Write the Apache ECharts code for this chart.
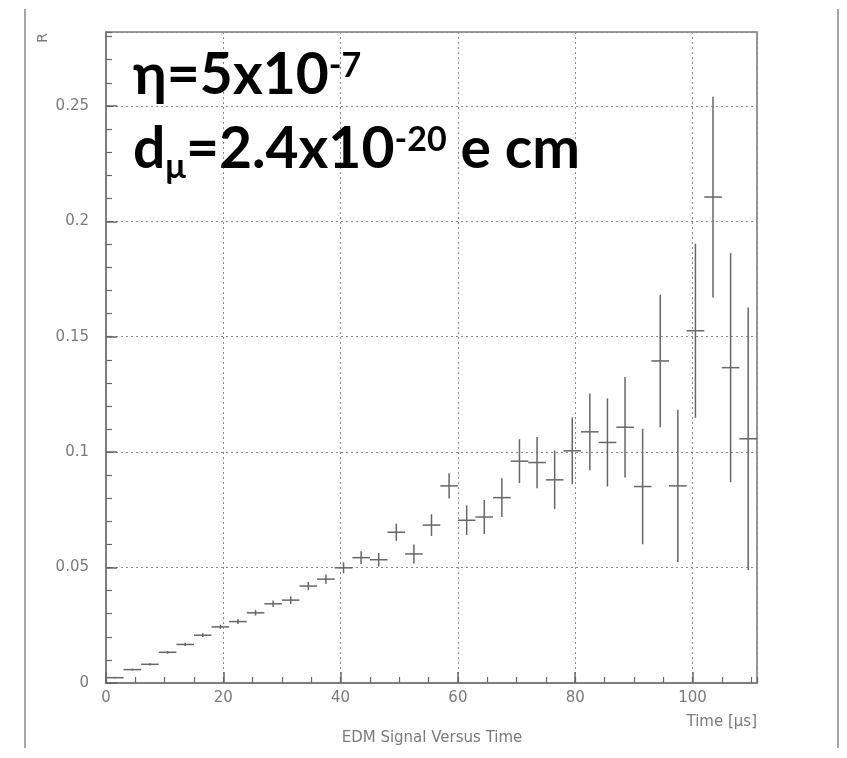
<!DOCTYPE html>
<html>
<head>
<meta charset="utf-8">
<script src="https://cdn.jsdelivr.net/npm/echarts@6/dist/echarts.min.js"></script>
<style>
  html, body { margin: 0; padding: 0; background: #fff; }
  #chart { width: 847px; height: 758px; }
</style>
</head>
<body>
<div id="chart"></div>
<script>
// Bin centres (µs), measured asymmetry R and its statistical error per bin
const times = [1.5, 4.5, 7.5, 10.5, 13.5, 16.5, 19.5, 22.5, 25.5, 28.5,
  31.5, 34.5, 37.5, 40.5, 43.5, 46.5, 49.5, 52.5, 55.5, 58.5,
  61.5, 64.5, 67.5, 70.5, 73.5, 76.5, 79.5, 82.5, 85.5, 88.5,
  91.5, 94.5, 97.5, 100.5, 103.5, 106.5, 109.5];
const rValues = [0.0023, 0.0058, 0.0081, 0.0133, 0.0167, 0.0207, 0.0243, 0.0266, 0.0304, 0.0343,
  0.0359, 0.0420, 0.0450, 0.0499, 0.0543, 0.0534, 0.0653, 0.0559, 0.0684, 0.0854,
  0.0705, 0.0719, 0.0803, 0.0961, 0.0955, 0.0880, 0.1006, 0.1088, 0.1042, 0.1108,
  0.0851, 0.1395, 0.0854, 0.1526, 0.2105, 0.1366, 0.1058];
const rErrors = [0.0002, 0.0004, 0.0005, 0.0006, 0.0007, 0.0008, 0.0009, 0.0010, 0.0012, 0.0014,
  0.0016, 0.0018, 0.0020, 0.0024, 0.0028, 0.0029, 0.0037, 0.0041, 0.0047, 0.0055,
  0.0064, 0.0074, 0.0084, 0.0095, 0.0111, 0.0127, 0.0145, 0.0166, 0.0191, 0.0218,
  0.0250, 0.0287, 0.0330, 0.0377, 0.0435, 0.0496, 0.0569];
const binHalfWidth = 1.5;

const xMin = 0, xMax = 111, xMajor = 20, xMinor = 5;
const yMin = 0, yMax = 0.282, yMajor = 0.05, yMinor = 0.01;

const points = times.map((t, i) => [t, rValues[i], rErrors[i]]);

const inkColor = '#666';
const labelColor = '#7a7a7a';

function renderErrorCross(params, api) {
  const t = api.value(0), r = api.value(1), e = api.value(2);
  const left = api.coord([t - binHalfWidth, r]);
  const right = api.coord([t + binHalfWidth, r]);
  const top = api.coord([t, r + e]);
  const bottom = api.coord([t, r - e]);
  const style = { stroke: inkColor, lineWidth: 1.5 };
  return {
    type: 'group',
    children: [
      { type: 'line', shape: { x1: left[0], y1: left[1], x2: right[0], y2: right[1] }, style: style },
      { type: 'line', shape: { x1: top[0], y1: top[1], x2: bottom[0], y2: bottom[1] }, style: style }
    ]
  };
}

const gridBox = { left: 106, top: 32, right: 90, bottom: 75 };
const titleFont = 'Lato, "Open Sans", sans-serif';
// rich-text styles for the annotation lines: main text, superscript, subscript
const bigText = { fontFamily: titleFont, fontWeight: 'bold', fontSize: 57, fill: '#000', lineHeight: 64, verticalAlign: 'bottom' };
const supText = { fontFamily: titleFont, fontWeight: 'bold', fontSize: 34, fill: '#000', lineHeight: 34, verticalAlign: 'top', padding: [9, 0, 0, 0] };
const subText = { fontFamily: titleFont, fontWeight: 'bold', fontSize: 34, fill: '#000', lineHeight: 34, verticalAlign: 'top', padding: [36, 0, 0, 0] };

const chart = echarts.init(document.getElementById('chart'), null, { renderer: 'canvas' });
chart.setOption({
  animation: false,
  backgroundColor: '#fff',
  grid: Object.assign({ show: true, borderColor: '#777', borderWidth: 1.5, containLabel: false }, gridBox),
  xAxis: [
    {
      type: 'value', min: xMin, max: xMax, interval: xMajor, position: 'bottom',
      axisLine: { show: true, onZero: false, lineStyle: { color: '#777', width: 1.5 } },
      axisTick: { show: true, inside: true, length: 11, lineStyle: { color: inkColor, width: 1.5 } },
      axisLabel: { color: labelColor, fontSize: 15, fontFamily: '"DejaVu Sans", sans-serif', margin: 8, showMaxLabel: false },
      splitLine: { show: true, lineStyle: { color: '#8a8a8a', type: [2, 3], width: 1 } }
    },
    {
      type: 'value', min: xMin, max: xMax, interval: xMinor, position: 'bottom',
      axisLine: { show: false },
      axisTick: { show: true, inside: true, length: 6, lineStyle: { color: inkColor, width: 1.2 } },
      axisLabel: { show: false },
      splitLine: { show: false }
    }
  ],
  yAxis: [
    {
      type: 'value', min: yMin, max: yMax, interval: yMajor, position: 'left',
      axisLine: { show: true, onZero: false, lineStyle: { color: '#777', width: 1.5 } },
      axisTick: { show: true, inside: true, length: 11, lineStyle: { color: inkColor, width: 1.5 } },
      axisLabel: { color: labelColor, fontSize: 15, fontFamily: '"DejaVu Sans", sans-serif', margin: 17, showMaxLabel: false },
      splitLine: { show: true, lineStyle: { color: '#8a8a8a', type: [2, 3], width: 1 } }
    },
    {
      type: 'value', min: yMin, max: yMax, interval: yMinor, position: 'left',
      axisLine: { show: false },
      axisTick: { show: true, inside: true, length: 6, lineStyle: { color: inkColor, width: 1.2 } },
      axisLabel: { show: false },
      splitLine: { show: false }
    }
  ],
  series: [
    {
      type: 'custom',
      xAxisIndex: 0,
      yAxisIndex: 0,
      renderItem: renderErrorCross,
      encode: { x: 0, y: 1 },
      data: points,
      clip: true,
      z: 5
    }
  ],
  graphic: [
    // outer page frame rules
    { type: 'line', shape: { x1: 25, y1: 9, x2: 25, y2: 748 }, style: { stroke: '#888', lineWidth: 1.5 }, silent: true },
    { type: 'line', shape: { x1: 838, y1: 9, x2: 838, y2: 748 }, style: { stroke: '#888', lineWidth: 1.5 }, silent: true },
    // axis titles
    { type: 'text', x: 43, y: 38, rotation: Math.PI / 2,
      style: { text: 'R', fill: labelColor, font: '14px "DejaVu Sans", sans-serif', align: 'center', verticalAlign: 'middle' } },
    { type: 'text', x: 757, y: 722,
      style: { text: 'Time [μs]', fill: labelColor, font: '15px "DejaVu Sans", sans-serif', align: 'right', verticalAlign: 'middle' } },
    { type: 'text', x: 432, y: 738,
      style: { text: 'EDM Signal Versus Time', fill: labelColor, font: '15px "DejaVu Sans", sans-serif', align: 'center', verticalAlign: 'middle' } },
    // parameter annotations
    { type: 'text', x: 133, y: 104, z: 20,
      style: {
        text: '{b|η=5x10}{sup|-7}',
        align: 'left', verticalAlign: 'bottom',
        rich: { b: bigText, sup: supText }
      } },
    { type: 'text', x: 133, y: 178, z: 20,
      style: {
        text: '{b|d}{sub|μ}{b|=2.4x10}{sup|-20}{b| e cm}',
        align: 'left', verticalAlign: 'bottom',
        rich: { b: bigText, sub: subText, sup: supText }
      } }
  ]
});
</script>
</body>
</html>
